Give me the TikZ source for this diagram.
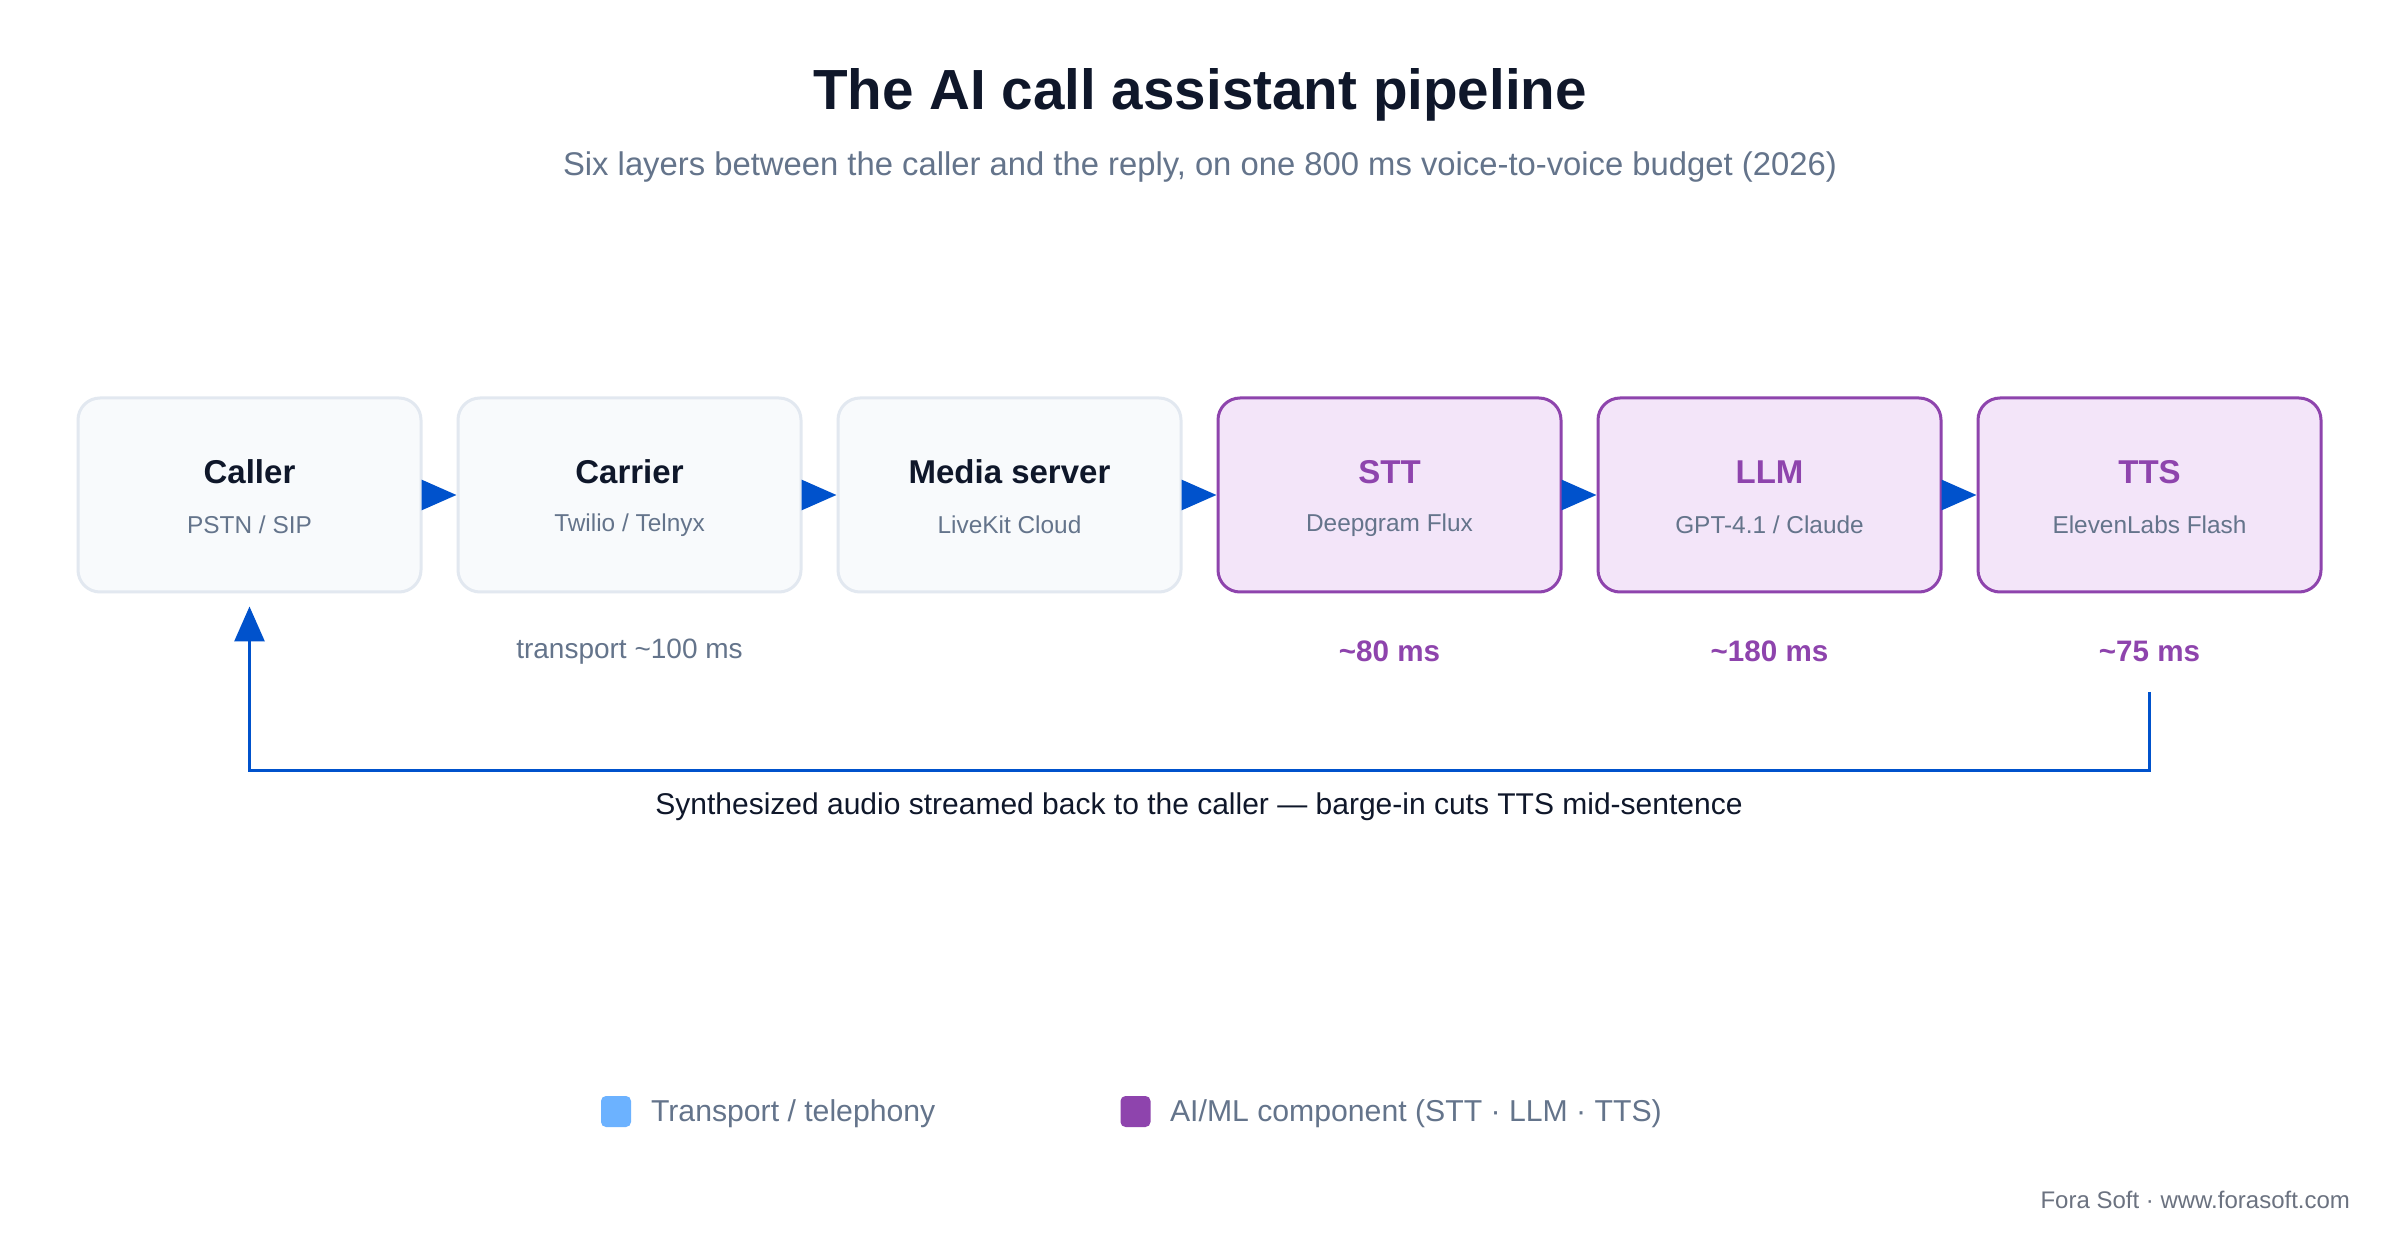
\documentclass[tikz,border=0pt]{standalone}
\usepackage{fontspec}
\setmainfont{Liberation Sans}
\usetikzlibrary{arrows.meta}
\definecolor{ink}{HTML}{0F172A}
\definecolor{slate}{HTML}{64748B}
\definecolor{gborder}{HTML}{E2E8F0}
\definecolor{gfill}{HTML}{F8FAFC}
\definecolor{pborder}{HTML}{8E44AD}
\definecolor{pfill}{HTML}{F3E5F9}
\definecolor{flowblue}{HTML}{0052CC}
\definecolor{legblue}{HTML}{6CB2FF}
\definecolor{footgray}{HTML}{6B7280}
\begin{document}
\begin{tikzpicture}[x=0.5pt,y=-0.5pt,
  tbox/.style={draw=gborder, fill=gfill, line width=1.5pt, rounded corners=11pt,
    minimum width=171.5pt, minimum height=97pt, inner sep=0pt},
  aibox/.style={tbox, draw=pborder, fill=pfill},
  boxtitle/.style={font=\fontsize{16.5}{20}\selectfont\bfseries, text=ink},
  aititle/.style={boxtitle, text=pborder},
  boxsub/.style={font=\fontsize{12.2}{15}\selectfont, text=slate},
  latgray/.style={font=\fontsize{14}{17}\selectfont, text=slate},
  latpurple/.style={font=\fontsize{14.8}{18}\selectfont\bfseries, text=pborder},
  flow/.style={draw=flowblue, line width=1.5pt, -{Triangle[length=17.5pt,width=15pt]}},
  legsq/.style={rounded corners=2.5pt, minimum width=15pt, minimum height=15.5pt, inner sep=0pt},
  legtext/.style={font=\fontsize{15.1}{18}\selectfont, text=slate, anchor=west}
]
\useasboundingbox[fill=white] (0,0) rectangle (2400,1240);

% title
\node[font=\fontsize{28.3}{34}\selectfont\bfseries, text=ink] (title) at (1200,95) {The AI call assistant pipeline};
\node[font=\fontsize{16.4}{20}\selectfont, text=slate] (subtitle) at (1200,167) {Six layers between the caller and the reply, on one 800 ms voice-to-voice budget (2026)};

% boxes
\node[tbox] (caller) at (249.5,495) {};
\node[tbox] (carrier) at (629.5,495) {};
\node[tbox] (media) at (1009.5,495) {};
\node[aibox] (stt) at (1389.5,495) {};
\node[aibox] (llm) at (1769.5,495) {};
\node[aibox] (tts) at (2149.5,495) {};

\node[boxtitle] (callerT) at (249.5,472) {Caller};
\node[boxsub] (callerS) at (249.5,525) {PSTN / SIP};
\node[boxtitle] (carrierT) at (629.5,472) {Carrier};
\node[boxsub] (carrierS) at (629.5,525) {Twilio / Telnyx};
\node[boxtitle] (mediaT) at (1009.5,472) {Media server};
\node[boxsub] (mediaS) at (1009.5,525) {LiveKit Cloud};
\node[aititle] (sttT) at (1389.5,472) {STT};
\node[boxsub] (sttS) at (1389.5,525) {Deepgram Flux};
\node[aititle] (llmT) at (1769.5,472) {LLM};
\node[boxsub] (llmS) at (1769.5,525) {GPT-4.1 / Claude};
\node[aititle] (ttsT) at (2149.5,472) {TTS};
\node[boxsub] (ttsS) at (2149.5,525) {ElevenLabs Flash};

% arrows
\draw[flow] (caller.east) -- (carrier.west);
\draw[flow] (carrier.east) -- (media.west);
\draw[flow] (media.east) -- (stt.west);
\draw[flow] (stt.east) -- (llm.west);
\draw[flow] (llm.east) -- (tts.west);

% latency labels
\node[latgray] (latT) at (629.5,652) {transport \textasciitilde100 ms};
\node[latpurple] (latS) at (1389.5,651) {\textasciitilde80 ms};
\node[latpurple] (latL) at (1769.5,651) {\textasciitilde180 ms};
\node[latpurple] (latTT) at (2149.5,651) {\textasciitilde75 ms};

% feedback
\coordinate (fbstart) at (2149.5,692);
\draw[flow, shorten >=6.5pt] (fbstart) -- (2149.5,771) -| (caller.south);
\node[font=\fontsize{15}{18}\selectfont, text=ink] (fbcap) at (1199,807) {Synthesized audio streamed back to the caller — barge-in cuts TTS mid-sentence};

% legend
\node[legsq, fill=legblue] (leg1) at (616,1111.5) {};
\node[legtext] (leg1t) at (644,1114) {Transport / telephony};
\node[legsq, fill=pborder] (leg2) at (1135.5,1111.5) {};
\node[legtext] (leg2t) at (1163,1114) {AI/ML component (STT · LLM · TTS)};

% footer
\node[font=\fontsize{12}{14}\selectfont, text=footgray, anchor=east] (footer) at (2357,1200) {Fora Soft · www.forasoft.com};
\end{tikzpicture}
\end{document}
